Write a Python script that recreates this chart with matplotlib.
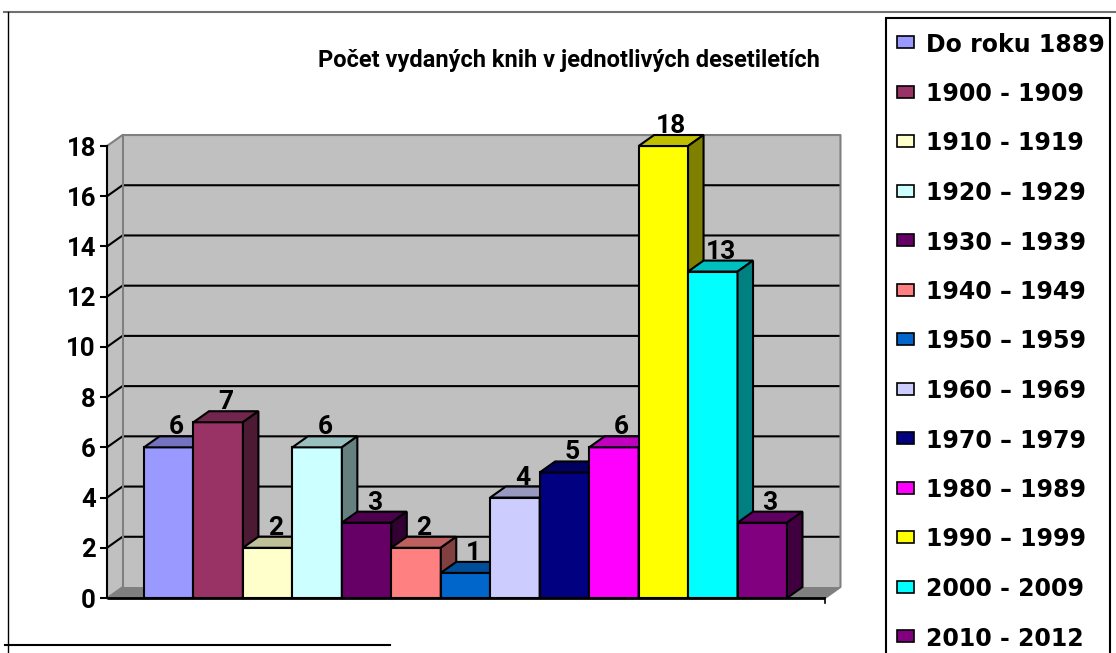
import numpy as np
import matplotlib.pyplot as plt
from matplotlib.patches import Rectangle, Polygon
from matplotlib.colors import to_rgb

# data
periods = ["Do roku 1889", "1900 - 1909", "1910 - 1919", "1920 \u2013 1929",
           "1930 \u2013 1939", "1940 \u2013 1949", "1950 \u2013 1959",
           "1960 \u2013 1969", "1970 \u2013 1979", "1980 \u2013 1989",
           "1990 \u2013 1999", "2000 - 2009", "2010 - 2012"]
counts = [6, 7, 2, 6, 3, 2, 1, 4, 5, 6, 18, 13, 3]
colors = ["#9999FF", "#993366", "#FFFFCC", "#CCFFFF", "#660066", "#FF8080",
          "#0066CC", "#CCCCFF", "#000080", "#FF00FF", "#FFFF00", "#00FFFF",
          "#800080"]
yticks = [0, 2, 4, 6, 8, 10, 12, 14, 16, 18]
title = "Počet vydaných knih v jednotlivých desetiletích"

W, H = 1116, 653
fig = plt.figure(figsize=(W / 100, H / 100), dpi=100)


def fpx(x, y):
    # figure pixel -> figure fraction
    return x / W, 1 - y / H


# plot area in pixels, bars are 1 unit wide, start at x=0
ax_l, ax_r, ax_b, ax_t = 100, 850, 610, 100
xpu, ypu = 49.46, 25.11      # pixels per data unit
ax = fig.add_axes([ax_l / W, 1 - ax_b / H, (ax_r - ax_l) / W, (ax_b - ax_t) / H])
ax.set_xlim((ax_l - 144) / xpu, (ax_r - 144) / xpu)
ax.set_ylim(-(ax_b - 598) / ypu, (598 - ax_t) / ypu)
ax.axis("off")

dx, dy = 15.5 / xpu, 11 / ypu   # depth offset
n = len(counts)
x0 = -37 / xpu                  # front left corner of the floor
x1 = n + 38 / xpu               # front right corner of the floor
ymax = yticks[-1]
wall = "#C0C0C0"
edge_gray = "#808080"

# back wall and left wall
ax.add_patch(Rectangle((x0 + dx, dy), x1 - x0, ymax, fc=wall, ec="none", zorder=1))
ax.add_patch(Polygon([(x0, 0), (x0 + dx, dy), (x0 + dx, ymax + dy), (x0, ymax)],
                     fc=wall, ec="none", zorder=1))
# floor
ax.add_patch(Polygon([(x0, 0), (x1, 0), (x1 + dx, dy), (x0 + dx, dy)],
                     fc=edge_gray, ec="none", zorder=1))

# gridlines
for v in yticks[1:-1]:
    ax.plot([x0, x0 + dx, x1 + dx], [v, v + dy, v + dy], color="black", lw=1.5,
            zorder=2, solid_capstyle="butt")
# gray wall edges
ax.plot([x0, x0 + dx, x1 + dx, x1 + dx, x1],
        [ymax, ymax + dy, ymax + dy, dy, 0], color=edge_gray, lw=1.5, zorder=2)
ax.plot([x0 + dx, x0 + dx], [dy, ymax + dy], color=edge_gray, lw=1.5, zorder=2)
ax.plot([x0, x0 + dx], [0, dy], color=edge_gray, lw=1.2, zorder=2)

# bars
for i, (v, c) in enumerate(zip(counts, colors)):
    rgb = np.array(to_rgb(c))
    z = 3 + i * 0.01
    ax.add_patch(Rectangle((i, 0), 1, v, fc=c, ec="black", lw=1.5, zorder=z))
    ax.add_patch(Polygon([(i, v), (i + 1, v), (i + 1 + dx, v + dy), (i + dx, v + dy)],
                         fc=rgb * 0.75, ec="black", lw=1.5, zorder=z,
                         joinstyle="miter"))
    ax.add_patch(Polygon([(i + 1, 0), (i + 1 + dx, dy), (i + 1 + dx, v + dy), (i + 1, v)],
                         fc=rgb * 0.5, ec="black", lw=1.5, zorder=z,
                         joinstyle="miter"))
    ax.annotate(str(v), (i + 0.5 + dx / 2, v + dy), xytext=(0, 2),
                textcoords="offset pixels", ha="center", va="baseline",
                zorder=10, annotation_clip=False, fontsize=19,
                fontweight="bold", family="Roboto")

# front axes lines
ax.plot([x0, x1], [0, 0], color="black", lw=2, zorder=5, solid_capstyle="butt")
ax.plot([x1, x1], [0, -5 / ypu], color="black", lw=1.2, zorder=5)
ax.plot([x0, x0], [0, ymax], color="black", lw=1.5, zorder=5)
for v in yticks:
    ax.plot([x0 - 6 / xpu, x0], [v, v], color="black", lw=1.5, zorder=5)
    ax.annotate(str(v), (x0, v), xytext=(-11, 0), textcoords="offset pixels",
                ha="right", va="center_baseline", annotation_clip=False,
                fontsize=18.5, fontweight="bold", family="Roboto")

# title
fig.text(*fpx(569, 60), title, ha="center", va="center", fontsize=17,
         fontweight="bold", family="Roboto")

# chart frame lines
fig.add_artist(plt.Line2D([4 / W, 1], [1 - 12 / H] * 2, color="#707070", lw=1.5))
fig.add_artist(plt.Line2D([8 / W] * 2, [0, 1 - 12 / H], color="black", lw=1))
fig.add_artist(plt.Line2D([5 / W, 390 / W], [1 - 645 / H] * 2, color="black", lw=1.5))

# legend
lx, ly = fpx(886, 660)
fig.add_artist(Rectangle((lx, ly), 224 / W, (660 - 18) / H, transform=fig.transFigure,
                         fc="white", ec="black", lw=1.5))
for k, (lab, c) in enumerate(zip(periods, colors)):
    yc = 42 + k * 49.5
    mx, my = fpx(897, yc + 6)
    fig.add_artist(Rectangle((mx, my), 17 / W, 12 / H, transform=fig.transFigure,
                             fc=c, ec="black", lw=1.2))
    fig.text(*fpx(926, yc), lab, ha="left", va="center_baseline", fontsize=17,
             fontweight="bold", family="DejaVu Sans")

fig.savefig("out.png", dpi=100)
